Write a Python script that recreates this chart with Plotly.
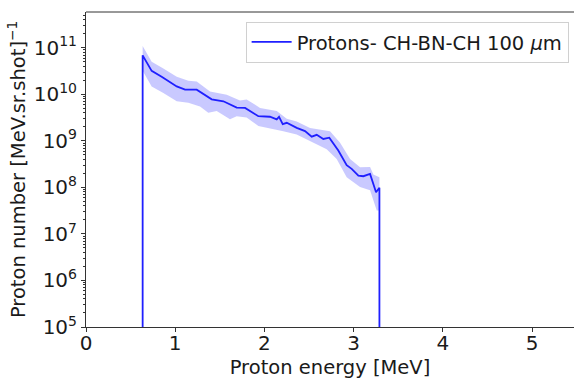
import plotly.graph_objects as go

# Main spectrum (energy in MeV, proton number per MeV.sr.shot)
energy = [0.635, 0.635, 0.736, 0.848, 1.017, 1.110, 1.241, 1.409, 1.540, 1.689, 1.783,
          1.932, 2.062, 2.138, 2.164, 2.205, 2.250, 2.362, 2.455, 2.530, 2.586,
          2.660, 2.727, 2.828, 2.922, 2.978, 3.053, 3.109, 3.184, 3.251, 3.289, 3.289]
counts = [1.0, 6.9e10, 3.2e10, 2.4e10, 1.48e10, 1.26e10, 1.26e10, 7.8e9, 7.1e9, 5.2e9, 5.1e9,
          3.4e9, 3.3e9, 2.9e9, 3.3e9, 2.3e9, 2.45e9, 1.9e9, 1.62e9, 1.23e9, 1.35e9,
          1.1e9, 1.17e9, 6.2e8, 3.0e8, 2.5e8, 1.8e8, 1.74e8, 1.95e8, 7.9e7, 9.8e7, 1.0]

# Uncertainty band edges
upper_energy = [0.635, 0.736, 0.867, 1.017, 1.147, 1.241, 1.390, 1.577, 1.726, 1.800, 1.951,
                2.138, 2.250, 2.362, 2.511, 2.735, 2.848, 2.960, 3.072, 3.184, 3.221, 3.289]
upper_counts = [1.1e11, 5.0e10, 3.6e10, 2.4e10, 1.95e10, 1.9e10, 1.15e10, 9.8e9, 7.4e9, 7.8e9, 5.1e9,
                4.4e9, 3.0e9, 2.6e9, 1.9e9, 1.62e9, 9.1e8, 4.1e8, 2.7e8, 2.75e8, 1.9e8, 1.66e8]
lower_energy = [0.635, 0.736, 0.867, 1.017, 1.147, 1.278, 1.371, 1.465, 1.614, 1.689, 1.800,
                1.932, 2.062, 2.212, 2.362, 2.511, 2.698, 2.810, 2.922, 3.072, 3.184, 3.259, 3.289]
lower_counts = [3.2e10, 1.48e10, 1.07e10, 7.1e9, 6.6e9, 5.5e9, 4.0e9, 4.4e9, 2.9e9, 3.4e9, 3.2e9,
                2.1e9, 1.86e9, 1.62e9, 1.38e9, 1.0e9, 6.6e8, 4.1e8, 1.66e8, 1.02e8, 8.7e7, 3.2e7, 3.2e7]

x_ticks = [0, 1, 2, 3, 4, 5]
y_exponents = [5, 6, 7, 8, 9, 10, 11]
minor_mantissas = [2, 3, 4, 5, 6, 7, 8, 9]

font_family = "DejaVu Sans"
line_color = "#1f1fff"

fig = go.Figure()
fig.add_trace(go.Scatter(
    x=upper_energy + lower_energy[::-1],
    y=upper_counts + lower_counts[::-1],
    fill="toself", fillcolor="rgba(40,40,255,0.25)",
    line=dict(width=0), mode="lines", showlegend=False, hoverinfo="skip"))
fig.add_trace(go.Scatter(
    x=energy, y=counts, mode="lines",
    line=dict(color=line_color, width=1.8),
    name="Protons- CH-BN-CH 100 <i>μ</i>m"))

axis_color = "#333333"
minor_vals = [m * 10 ** e for e in y_exponents for m in minor_mantissas]
fig.update_layout(
    width=574, height=379,
    margin=dict(l=86, r=0, t=12, b=49),
    paper_bgcolor="white", plot_bgcolor="white",
    font=dict(family=font_family, size=20, color="#1a1a1a"),
    showlegend=True,
    legend=dict(x=0.989, y=0.969, xanchor="right", yanchor="top",
                bgcolor="rgba(255,255,255,0.8)", bordercolor="#d0d0d0", borderwidth=1,
                font=dict(size=19.5), itemwidth=40, tracegroupgap=0),
    xaxis=dict(range=[0, 5.47], tickvals=x_ticks, ticktext=[str(v) for v in x_ticks],
               showline=True, linecolor=axis_color, linewidth=1, ticks="outside",
               ticklen=4, tickcolor=axis_color, showgrid=False, zeroline=False,
               tickfont=dict(size=20), ticklabelstandoff=-6,
               title=dict(text="Proton energy [MeV]", font=dict(size=19.5), standoff=10)),
    yaxis=dict(type="log", range=[5, 11.77],
               tickvals=[10 ** e for e in y_exponents],
               ticktext=["10<sup>%d</sup>" % e for e in y_exponents],
               showline=True, linecolor=axis_color, linewidth=1, ticks="outside",
               ticklen=4, tickcolor=axis_color, showgrid=False, zeroline=False,
               tickfont=dict(size=20),
               minor=dict(tickvals=minor_vals, ticks="outside", ticklen=2,
                          tickcolor=axis_color, showgrid=False),
               title=dict(text="Proton number [MeV.sr.shot]<sup>−1</sup>", font=dict(size=19.5), standoff=2)),
)
fig.add_shape(type="line", xref="paper", yref="paper", x0=0, x1=1, y0=1, y1=1,
              line=dict(color=axis_color, width=1))

fig.write_html("out.html")
